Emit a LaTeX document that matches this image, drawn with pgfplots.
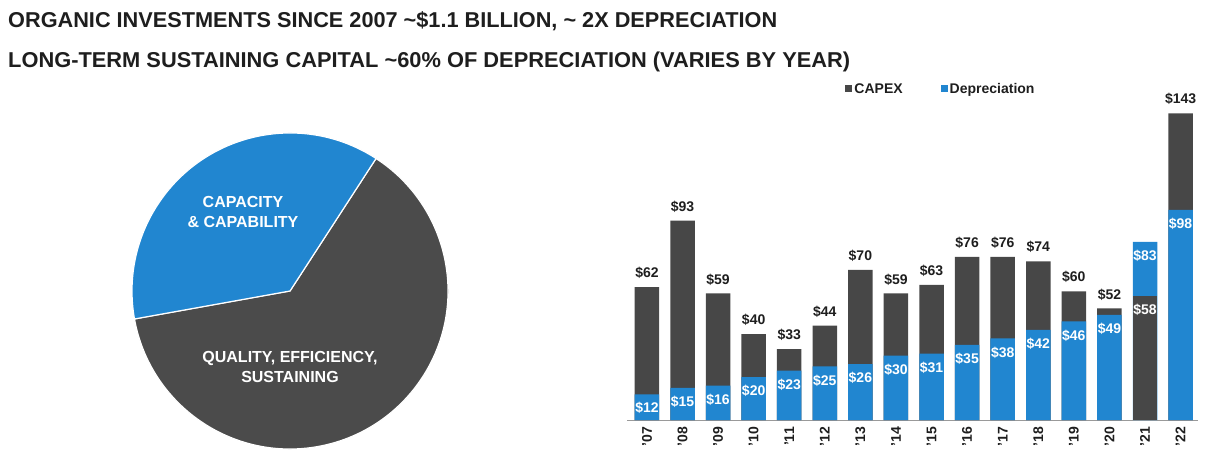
\documentclass[border=0pt]{standalone}
\usepackage{pgfplots}
\pgfplotsset{compat=1.18}
\usepackage{pgfplotstable}
\usepackage{graphicx}
\usepackage{fontspec}
\setmainfont{Liberation Sans}
\definecolor{capgray}{HTML}{474747}
\definecolor{pieblue}{HTML}{2186D0}
\definecolor{piegray}{HTML}{4B4B4B}
\definecolor{txt}{HTML}{1E1E1E}
\definecolor{axisgray}{HTML}{9A9A9A}

% CAPEX by year (x = 0 for '07 ... 15 for '22); '21 kept apart because it is drawn in front
\pgfplotstableread{
x y
0 62
1 93
2 59
3 40
4 33
5 44
6 70
7 59
8 63
9 76
10 76
11 74
12 60
13 52
15 143
}\capexmain
\pgfplotstableread{
x y
14 58
}\capexfront
\pgfplotstableread{
x y
0 12
1 15
2 16
3 20
4 23
5 25
6 26
7 30
8 31
9 35
10 38
11 42
12 46
13 49
14 83
15 98
}\deprec
% pie shares (percent)
\def\shareCap{37}
\def\shareQual{63}

\begin{document}
\begin{tikzpicture}[x=1pt,y=1pt]
\path[use as bounding box] (0pt,0pt) rectangle (1214pt,466pt);

\node[anchor=base west, inner sep=0pt, text=txt, font=\fontsize{21.5}{24}\selectfont\bfseries] at (8pt,438pt)
  {\resizebox{769pt}{\height}{ORGANIC INVESTMENTS SINCE 2007 \textasciitilde\$1.1 BILLION, \textasciitilde\ 2X DEPRECIATION}};
\node[anchor=base west, inner sep=0pt, text=txt, font=\fontsize{21.5}{24}\selectfont\bfseries] at (8pt,398pt)
  {\resizebox{842pt}{\height}{LONG-TERM SUSTAINING CAPITAL \textasciitilde60\% OF DEPRECIATION (VARIES BY YEAR)}};

% ---------------- pie ----------------
\begin{axis}[at={(290pt,175pt)}, anchor=center, hide axis, scale only axis,
  width=316pt, height=316pt, xmin=-1, xmax=1, ymin=-1, ymax=1]
  \pgfmathsetmacro{\sA}{57}
  \pgfmathsetmacro{\eA}{57+\shareCap*3.6}
  \pgfmathsetmacro{\eB}{\eA+\shareQual*3.6}
  \fill[piegray, draw=white, line width=1.2pt] (axis cs:0,0) -- ++(\eA:158pt) arc[start angle=\eA, end angle=\eB, radius=158pt] -- cycle;
  \fill[pieblue, draw=white, line width=1.2pt] (axis cs:0,0) -- ++(\sA:158pt) arc[start angle=\sA, end angle=\eA, radius=158pt] -- cycle;
\end{axis}
\node[text=white, align=center, font=\fontsize{16}{20}\selectfont\bfseries] at (243pt,254pt) {CAPACITY\\\& CAPABILITY};
\node[text=white, align=center, font=\fontsize{16}{20}\selectfont\bfseries] at (290pt,99pt) {QUALITY, EFFICIENCY,\\SUSTAINING};

% ---------------- bars ----------------
\begin{axis}[at={(627pt,46pt)}, anchor=south west, scale only axis,
  width=571pt, height=321.75pt,
  xmin=-0.56, xmax=15.49, ymin=0, ymax=150,
  /pgf/number format/assume math mode=true,
  axis x line=bottom, axis y line=none,
  x axis line style={-, draw=axisgray, line width=0.9pt},
  xtick={0,...,15},
  xticklabels={'07,'08,'09,'10,'11,'12,'13,'14,'15,'16,'17,'18,'19,'20,'21,'22},
  major tick length=0pt,
  xticklabel style={rotate=90, anchor=east, inner sep=0pt, text=txt, font=\fontsize{14}{16}\selectfont\bfseries},
  xticklabel shift=7pt,
  ybar, bar width=24.5pt, bar shift=0pt,
  clip=false,
  legend image code/.code={\fill[#1] (0pt,-3.5pt) rectangle (7pt,3.5pt);},
  legend style={at={(0.377,1.029)}, anchor=west, draw=none, fill=none,
    font=\fontsize{14}{16}\selectfont\bfseries, text=txt,
    /tikz/every even column/.append style={column sep=36pt}},
  legend columns=2, legend cell align=left,
]
\addplot[fill=capgray, draw=none,
  nodes near coords={\$\pgfmathprintnumber{\pgfplotspointmeta}},
  every node near coord/.append style={anchor=center, yshift=14pt, text=txt, font=\fontsize{14}{16}\selectfont\bfseries}]
  table[x=x, y=y] {\capexmain};
\addlegendentry{CAPEX}
\addplot[fill=pieblue, draw=none,
  nodes near coords={\$\pgfmathprintnumber{\pgfplotspointmeta}},
  every node near coord/.append style={anchor=center, yshift=-14pt, text=white, font=\fontsize{14}{16}\selectfont\bfseries}]
  table[x=x, y=y] {\deprec};
\addlegendentry{Depreciation}
\addplot[fill=capgray, draw=none, forget plot,
  nodes near coords={\$\pgfmathprintnumber{\pgfplotspointmeta}},
  every node near coord/.append style={anchor=center, yshift=-14pt, text=white, font=\fontsize{14}{16}\selectfont\bfseries}]
  table[x=x, y=y] {\capexfront};
\end{axis}
\end{tikzpicture}
\end{document}
